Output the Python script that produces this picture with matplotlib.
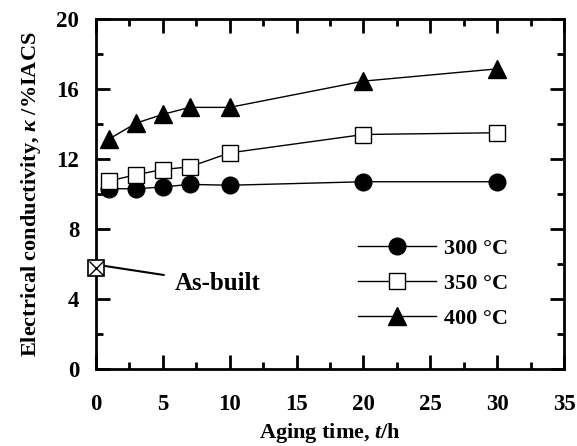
import matplotlib

matplotlib.use("Agg")
import matplotlib.pyplot as plt
from matplotlib.ticker import MultipleLocator

# aging time (h)
time_h = [1, 3, 5, 7, 10, 20, 30]
cond_300 = [10.3, 10.3, 10.4, 10.55, 10.5, 10.7, 10.7]
cond_350 = [10.75, 11.1, 11.4, 11.55, 12.35, 13.4, 13.5]
cond_400 = [13.15, 14.05, 14.55, 14.95, 14.95, 16.45, 17.15]
series_labels = ["300 °C", "350 °C", "400 °C"]
as_built_x = [0]
as_built_y = [5.8]

plt.rcParams["font.family"] = ["Liberation Serif", "DejaVu Serif"]
plt.rcParams["font.weight"] = "bold"
plt.rcParams["mathtext.fontset"] = "custom"
plt.rcParams["mathtext.it"] = "Liberation Serif:italic:bold"
plt.rcParams["mathtext.rm"] = "Liberation Serif:bold"

fig = plt.figure(figsize=(5.77, 4.46), dpi=100)
ax = fig.add_axes([96 / 577, 1 - 369 / 446, (564 - 96) / 577, (369 - 19) / 446])

line_kw = dict(color="black", lw=1.0, markeredgecolor="black", markeredgewidth=1.0)
ax.plot(time_h, cond_300, marker="o", ms=12, mfc="black", label=series_labels[0], **line_kw)
ax.plot(time_h, cond_350, marker="s", ms=12, mfc="white", label=series_labels[1], **line_kw)
ax.plot(time_h, cond_400, marker="^", ms=13, mfc="black", label=series_labels[2], **line_kw)

# as-built point: square with a cross
ax.plot(as_built_x, as_built_y, marker="s", ms=12, mfc="white", mec="black",
        mew=1.2, ls="none", clip_on=False, zorder=5)
ax.plot(as_built_x, as_built_y, marker="x", ms=10, mec="black", mew=1.0,
        ls="none", clip_on=False, zorder=6)
ax.annotate("As-built", xy=(0.55, 5.9), xytext=(5.9, 4.9),
            fontsize=18, fontweight="bold", va="center", ha="left",
            arrowprops=dict(arrowstyle="-", color="black", lw=1.5,
                            shrinkA=6, shrinkB=0))

ax.set_xlim(0, 35)
ax.set_ylim(0, 20)
ax.xaxis.set_major_locator(MultipleLocator(5))
ax.xaxis.set_minor_locator(MultipleLocator(2.5))
ax.yaxis.set_major_locator(MultipleLocator(4))
ax.yaxis.set_minor_locator(MultipleLocator(2))
ax.tick_params(which="both", direction="in", top=True, right=True, width=2,
               labelsize=16.5)
ax.tick_params(axis="x", pad=18)
ax.tick_params(axis="y", pad=12)
ax.tick_params(which="major", length=10)
ax.tick_params(which="minor", length=5)
for s in ax.spines.values():
    s.set_linewidth(2)

ax.set_xlabel(r"Aging time, $t$/h", fontsize=16, fontweight="bold", labelpad=4)
ax.set_ylabel(r"Electrical conductivity, $\kappa$ /%IACS", fontsize=16,
              fontweight="bold", labelpad=10)

ax.legend(loc="upper left", bbox_to_anchor=(358 / 577, 1 - 238 / 446),
          bbox_transform=fig.transFigure, frameon=False, borderpad=0,
          borderaxespad=0, fontsize=16, handlelength=3.5, labelspacing=0.65,
          handletextpad=0.35)

fig.savefig("out.png", dpi=100)
